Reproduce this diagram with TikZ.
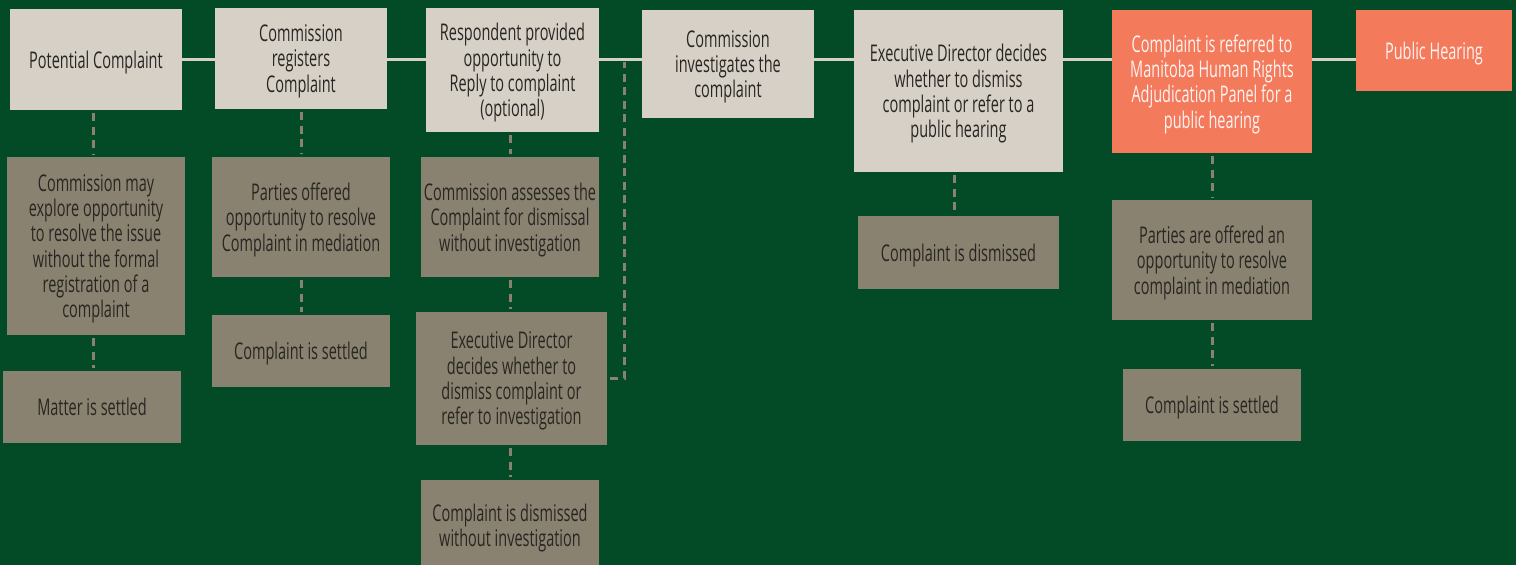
\documentclass[tikz,border=0pt]{standalone}
\usepackage{fontspec}
\setmainfont{Open Sans}[FakeStretch=0.63]
\usetikzlibrary{backgrounds}
\definecolor{bggreen}{RGB}{3,75,39}
\definecolor{paper}{RGB}{214,208,199}
\definecolor{stone}{RGB}{138,130,112}
\definecolor{salmon}{RGB}{244,122,92}
\definecolor{ink}{RGB}{40,38,34}

\begin{document}
\begin{tikzpicture}[x=1pt,y=-1pt,
    box/.style={rectangle,inner sep=0pt,align=center,text=ink,font=\fontsize{23}{25.3}\selectfont,
      text depth=-2.5pt},
    topbox/.style={box,fill=paper},
    subbox/.style={box,fill=stone},
    hotbox/.style={box,fill=salmon,text=white!92!salmon},
    mainline/.style={draw=paper,line width=2.7pt},
    dashline/.style={draw=stone,line width=3pt,dash pattern=on 8pt off 5.5pt,shorten <=3pt,shorten >=3pt}]
      \useasboundingbox (0,0) rectangle (1516,565);

      % main steps
      \node[topbox,minimum width=172pt,minimum height=101pt] (pc) at (96,59.5) {Potential Complaint};
      \node[topbox,minimum width=172pt,minimum height=101pt] (cr) at (301,58.5) {Commission\\registers\\Complaint};
      \node[topbox,minimum width=173pt,minimum height=124pt] (rp) at (512.5,70) {Respondent provided\\opportunity to\\Reply to complaint\\(optional)};
      \node[topbox,minimum width=172pt,minimum height=108pt] (ci) at (728,64) {Commission\\investigates the\\complaint};
      \node[topbox,minimum width=209pt,minimum height=162pt] (ed) at (958.5,91) {Executive Director decides\\whether to dismiss\\complaint or refer to a\\public hearing};
      \node[hotbox,minimum width=200pt,minimum height=143pt] (ref) at (1212,81.5) {Complaint is referred to\\Manitoba Human Rights\\Adjudication Panel for a\\public hearing};
      \node[hotbox,minimum width=156pt,minimum height=81pt] (pub) at (1434,50.5) {Public Hearing};

      % side outcomes
      \node[subbox,minimum width=178pt,minimum height=178pt] (explore) at (96,246) {Commission may\\explore opportunity\\to resolve the issue\\without the formal\\registration of a\\complaint};
      \node[subbox,minimum width=178pt,minimum height=72pt] (matter) at (92,407) {Matter is settled};
      \node[subbox,minimum width=178pt,minimum height=120pt] (offer) at (301,217) {Parties offered\\opportunity to resolve\\Complaint in mediation};
      \node[subbox,minimum width=178pt,minimum height=72pt] (settle) at (301,351) {Complaint is settled};
      \node[subbox,minimum width=178pt,minimum height=120pt] (assess) at (510,217) {Commission assesses the\\Complaint for dismissal\\without investigation};
      \node[subbox,minimum width=191pt,minimum height=133pt] (edi) at (511.5,378.5) {Executive Director\\decides whether to\\dismiss complaint or\\refer to investigation};
      \node[subbox,minimum width=178pt,minimum height=90pt] (dwi) at (510,525) {Complaint is dismissed\\without investigation};
      \node[subbox,minimum width=201pt,minimum height=73pt] (dism) at (958.5,252.5) {Complaint is dismissed};
      \node[subbox,minimum width=200pt,minimum height=120pt] (offer2) at (1212,260) {Parties are offered an\\opportunity to resolve\\complaint in mediation};
      \node[subbox,minimum width=178pt,minimum height=72pt] (settle2) at (1212,405) {Complaint is settled};

      \coordinate (jn) at (624,59);

      \begin{scope}[on background layer]
      \fill[bggreen] (0,0) rectangle (1516,565);
      \draw[mainline] (pc.east) -- (pub.west |- pc.east);
      \end{scope}

      \draw[dashline] ([xshift=-3pt]pc.south) -- ([xshift=-3pt]explore.north);
      \draw[dashline] ([xshift=-3pt]explore.south) -- ([xshift=-3pt]explore.south |- matter.north);
      \draw[dashline] (cr) -- (offer);
      \draw[dashline] (offer) -- (settle);
      \draw[dashline] (rp.south -| assess) -- (assess.north);
      \draw[dashline] (assess) -- (edi.north -| assess);
      \draw[dashline] (edi.south -| dwi) -- (dwi.north);
      \draw[dashline] (edi.east) -| (jn);
      \draw[dashline] ([xshift=-4pt]ed.south) -- ([xshift=-4pt]dism.north);
      \draw[dashline] (ref) -- (offer2);
      \draw[dashline] (offer2) -- (settle2);
\end{tikzpicture}
\end{document}
